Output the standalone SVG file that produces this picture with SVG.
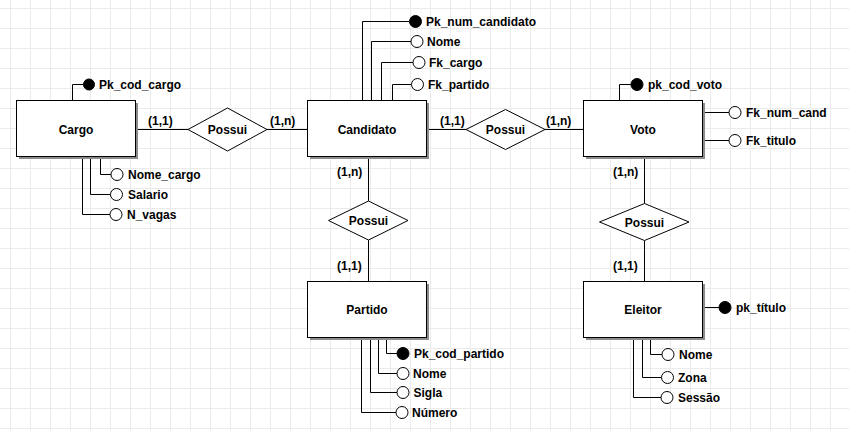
<svg xmlns="http://www.w3.org/2000/svg" width="849" height="431" viewBox="0 0 849 431">
  <defs>
    <pattern id="grid" x="10" y="8" width="20" height="20" patternUnits="userSpaceOnUse">
      <path d="M0.5 0V20M0 0.5H20" fill="none" stroke="#ebebeb" stroke-width="1"/>
    </pattern>
    <style>
      text { font-family: "Liberation Sans", Arial, sans-serif; font-size: 12px; font-weight: bold; fill: #000; }
      .mid { text-anchor: middle; }
      .ent { fill: #fff; stroke: #000; stroke-width: 1; }
      .shadow { fill: #8c8c8c; stroke: none; }
      .rel { fill: #fff; stroke: #000; stroke-width: 1; }
      .line { fill: none; stroke: #000; stroke-width: 1; }
      .attr { fill: #fff; stroke: #000; stroke-width: 1; }
      .key { fill: #000; stroke: #000; stroke-width: 1; }
    </style>
  </defs>

  <rect width="849" height="431" fill="#fff"/>
  <rect width="849" height="431" fill="url(#grid)"/>

  <!-- connectors: relationships and attribute links -->
  <g id="connectors" class="line">
    <!-- Cargo - Possui - Candidato -->
    <path d="M136 129.5H188M267 129.5H307"/>
    <!-- Candidato - Possui - Voto -->
    <path d="M427 129.5H466M545 129.5H583"/>
    <!-- Candidato - Possui - Partido -->
    <path d="M368.5 157V201M368.5 240V281"/>
    <!-- Voto - Possui - Eleitor -->
    <path d="M644.5 157V203.5M644.5 240.5V282"/>

    <!-- Cargo attributes -->
    <path d="M72.5 100V84.5H83"/>
    <path d="M100.5 157V174.5H111"/>
    <path d="M90.5 157V194.5H110.5"/>
    <path d="M82.5 157V214.5H110"/>

    <!-- Candidato attributes -->
    <path d="M362.5 100V21.5H409"/>
    <path d="M371.5 100V41.5H411"/>
    <path d="M381.5 100V62.5H413"/>
    <path d="M392.5 100V84.5H411.5"/>

    <!-- Voto attributes -->
    <path d="M619.5 100V84.5H631"/>
    <path d="M703 112.5H729"/>
    <path d="M703 140.5H729"/>

    <!-- Partido attributes -->
    <path d="M386.5 338V353.5H397"/>
    <path d="M378.5 338V373.5H397"/>
    <path d="M370.5 338V392.5H397"/>
    <path d="M361.5 338V412.5H396"/>

    <!-- Eleitor attributes -->
    <path d="M703 307.5H719"/>
    <path d="M650.5 338V354.5H662"/>
    <path d="M642.5 338V377.5H661.5"/>
    <path d="M633.5 338V397.5H661"/>
  </g>

  <!-- cardinalities -->
  <g id="cardinalities">
    <text x="148" y="125">(1,1)</text>
    <text x="270" y="125">(1,n)</text>
    <text x="440" y="125">(1,1)</text>
    <text x="546" y="125">(1,n)</text>
    <text x="337" y="176">(1,n)</text>
    <text x="337" y="270">(1,1)</text>
    <text x="613" y="176">(1,n)</text>
    <text x="613" y="270">(1,1)</text>
  </g>

  <!-- entities -->
  <g id="cargo">
    <rect class="shadow" x="19" y="103" width="119" height="56"/>
    <rect class="ent" x="16.5" y="100.5" width="119" height="56"/>
    <text class="mid" x="76" y="133.5">Cargo</text>
  </g>
  <g id="candidato">
    <rect class="shadow" x="310" y="103" width="119" height="56"/>
    <rect class="ent" x="307.5" y="100.5" width="119" height="56"/>
    <text class="mid" x="367" y="133.5">Candidato</text>
  </g>
  <g id="voto">
    <rect class="shadow" x="586" y="103" width="119" height="56"/>
    <rect class="ent" x="583.5" y="100.5" width="119" height="56"/>
    <text class="mid" x="643" y="133.5">Voto</text>
  </g>
  <g id="partido">
    <rect class="shadow" x="310" y="284" width="119" height="56"/>
    <rect class="ent" x="307.5" y="281.5" width="119" height="56"/>
    <text class="mid" x="367" y="314">Partido</text>
  </g>
  <g id="eleitor">
    <rect class="shadow" x="586" y="284" width="119" height="56"/>
    <rect class="ent" x="583.5" y="281.5" width="119" height="56"/>
    <text class="mid" x="643" y="314">Eleitor</text>
  </g>

  <!-- relationships -->
  <g id="possui-cargo-candidato">
    <polygon class="rel" points="188,129.5 227.5,108 267,129.5 227.5,151"/>
    <text class="mid" x="227.5" y="134">Possui</text>
  </g>
  <g id="possui-candidato-voto">
    <polygon class="rel" points="466,129.5 505.5,109.5 545,129.5 505.5,149.5"/>
    <text class="mid" x="505.5" y="134">Possui</text>
  </g>
  <g id="possui-candidato-partido">
    <polygon class="rel" points="328.5,220.5 368.5,201 408,220.5 368.5,240"/>
    <text class="mid" x="368.5" y="225">Possui</text>
  </g>
  <g id="possui-voto-eleitor">
    <polygon class="rel" points="599.5,222 644.5,203.5 689,222 644.5,240.5"/>
    <text class="mid" x="644.5" y="226.5">Possui</text>
  </g>

  <!-- attributes of Cargo -->
  <g id="attr-cargo">
    <circle class="key" cx="89" cy="84.5" r="5.5"/>
    <text x="99" y="89">Pk_cod_cargo</text>
    <circle class="attr" cx="117" cy="174.5" r="6"/>
    <text x="128" y="179">Nome_cargo</text>
    <circle class="attr" cx="116.5" cy="194.5" r="6"/>
    <text x="128" y="199">Salario</text>
    <circle class="attr" cx="116" cy="214.5" r="6"/>
    <text x="127" y="219">N_vagas</text>
  </g>

  <!-- attributes of Candidato -->
  <g id="attr-candidato">
    <circle class="key" cx="415.5" cy="21.5" r="6"/>
    <text x="426" y="26">Pk_num_candidato</text>
    <circle class="attr" cx="417" cy="41.5" r="6"/>
    <text x="427" y="46">Nome</text>
    <circle class="attr" cx="419" cy="62.5" r="6"/>
    <text x="429" y="67">Fk_cargo</text>
    <circle class="attr" cx="417.5" cy="84.5" r="6"/>
    <text x="428" y="89">Fk_partido</text>
  </g>

  <!-- attributes of Voto -->
  <g id="attr-voto">
    <circle class="key" cx="637" cy="84.5" r="6"/>
    <text x="648" y="89">pk_cod_voto</text>
    <circle class="attr" cx="735" cy="112.5" r="6"/>
    <text x="746" y="117">Fk_num_cand</text>
    <circle class="attr" cx="735" cy="140.5" r="6"/>
    <text x="746" y="145">Fk_titulo</text>
  </g>

  <!-- attributes of Partido -->
  <g id="attr-partido">
    <circle class="key" cx="403" cy="353.5" r="6"/>
    <text x="414" y="358">Pk_cod_partido</text>
    <circle class="attr" cx="403" cy="373.5" r="6"/>
    <text x="413" y="378">Nome</text>
    <circle class="attr" cx="403" cy="392.5" r="6"/>
    <text x="413.5" y="397">Sigla</text>
    <circle class="attr" cx="402" cy="412.5" r="6"/>
    <text x="412" y="417">Número</text>
  </g>

  <!-- attributes of Eleitor -->
  <g id="attr-eleitor">
    <circle class="key" cx="725" cy="307.5" r="6"/>
    <text x="736" y="312">pk_título</text>
    <circle class="attr" cx="668" cy="354.5" r="6"/>
    <text x="679" y="359">Nome</text>
    <circle class="attr" cx="667.5" cy="377.5" r="6"/>
    <text x="678" y="382">Zona</text>
    <circle class="attr" cx="667" cy="397.5" r="6"/>
    <text x="678" y="402">Sessão</text>
  </g>
</svg>
